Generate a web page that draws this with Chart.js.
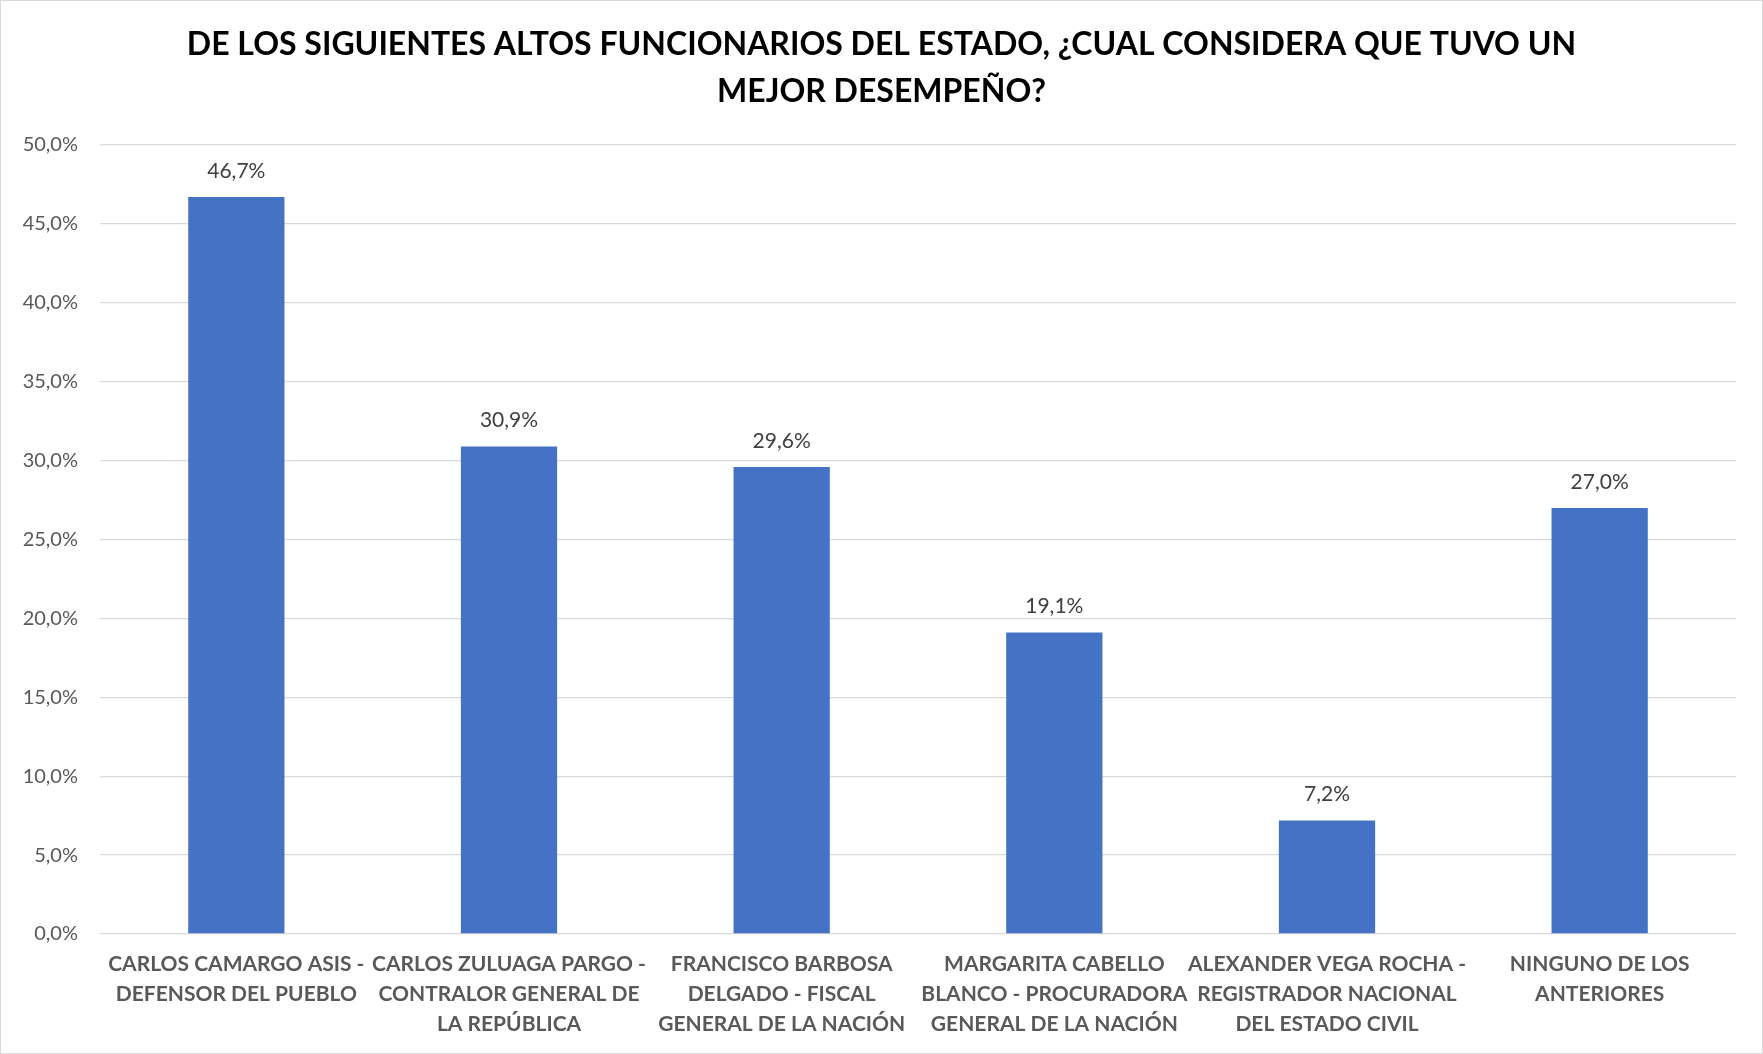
<!DOCTYPE html>
<html lang="es">
<head>
<meta charset="utf-8">
<title>Altos funcionarios del Estado</title>
<script src="https://cdn.jsdelivr.net/npm/chart.js@4.4.1/dist/chart.umd.min.js"></script>
<style>
  html, body { margin: 0; padding: 0; background: #fff; }
  #wrap { width: 1763px; height: 1054px; position: relative; }
</style>
</head>
<body>
<div id="wrap"><canvas id="chart"></canvas></div>
<script>
// ── Data ──
const titleLines = [
  'DE LOS SIGUIENTES ALTOS FUNCIONARIOS DEL ESTADO, ¿CUAL CONSIDERA QUE TUVO UN',
  'MEJOR DESEMPEÑO?'
];
const categories = [
  ['CARLOS CAMARGO ASIS -', 'DEFENSOR DEL PUEBLO'],
  ['CARLOS ZULUAGA PARGO -', 'CONTRALOR GENERAL DE', 'LA REPÚBLICA'],
  ['FRANCISCO BARBOSA', 'DELGADO - FISCAL', 'GENERAL DE LA NACIÓN'],
  ['MARGARITA CABELLO', 'BLANCO - PROCURADORA', 'GENERAL DE LA NACIÓN'],
  ['ALEXANDER VEGA ROCHA -', 'REGISTRADOR NACIONAL', 'DEL ESTADO CIVIL'],
  ['NINGUNO DE LOS', 'ANTERIORES']
];
const values = [46.7, 30.9, 29.6, 19.1, 7.2, 27.0];
const yMin = 0, yMax = 50, yStep = 5;

const FONT = 'Lato, "Open Sans", sans-serif';
const pct = v => v.toFixed(1).replace('.', ',') + '%';

// white background + thin chart-area frame, like the Excel export;
// also centre the title on the whole canvas, not on the padded layout box
const framePlugin = {
  id: 'frame',
  afterLayout(chart) {
    if (chart.titleBlock) {
      chart.titleBlock.left = 0;
      chart.titleBlock.right = chart.width;
    }
  },
  beforeDraw(chart) {
    const { ctx, width, height } = chart;
    ctx.save();
    ctx.fillStyle = '#ffffff';
    ctx.fillRect(0, 0, width, height);
    ctx.strokeStyle = '#d9d9d9';
    ctx.lineWidth = 1;
    ctx.strokeRect(0.5, 0.5, width - 1, height - 1);
    ctx.restore();
  }
};

// value labels above each bar
const valueLabels = {
  id: 'valueLabels',
  afterDatasetsDraw(chart) {
    const { ctx } = chart;
    const meta = chart.getDatasetMeta(0);
    ctx.save();
    ctx.font = `21px ${FONT}`;
    ctx.fillStyle = '#404040';
    ctx.textAlign = 'center';
    ctx.textBaseline = 'middle';
    meta.data.forEach((bar, i) => {
      ctx.fillText(pct(values[i]), bar.x, bar.y - 26);
    });
    ctx.restore();
  }
};

new Chart(document.getElementById('chart'), {
  type: 'bar',
  data: {
    labels: categories,
    datasets: [{
      data: values,
      backgroundColor: '#4472C4',
      borderWidth: 0,
      barPercentage: 0.353,
      categoryPercentage: 1
    }]
  },
  options: {
    responsive: true,
    maintainAspectRatio: false,
    animation: false,
    layout: { padding: { left: 0, right: 27, top: 0, bottom: 0 } },
    plugins: {
      legend: { display: false },
      tooltip: { enabled: false },
      title: {
        display: true,
        text: titleLines,
        color: '#000000',
        font: { family: FONT, size: 32, weight: 'bold', lineHeight: '47px' },
        padding: { top: 21, bottom: 30 }
      }
    },
    scales: {
      x: {
        grid: { display: false, drawTicks: false },
        border: { display: false },
        ticks: {
          color: '#595959',
          font: { family: FONT, size: 21, weight: 'bold', lineHeight: '30px' },
          padding: 15,
          maxRotation: 0,
          autoSkip: false
        },
        afterFit(scale) { scale.height = 120; }
      },
      y: {
        min: yMin,
        max: yMax,
        grid: { color: '#d9d9d9', lineWidth: 1.3, drawTicks: false },
        border: { display: false },
        ticks: {
          stepSize: yStep,
          color: '#595959',
          font: { family: FONT, size: 20 },
          padding: 22,
          callback: v => pct(v)
        },
        afterFit(scale) { scale.width = 100; }
      }
    }
  },
  plugins: [framePlugin, valueLabels]
});
</script>
</body>
</html>
